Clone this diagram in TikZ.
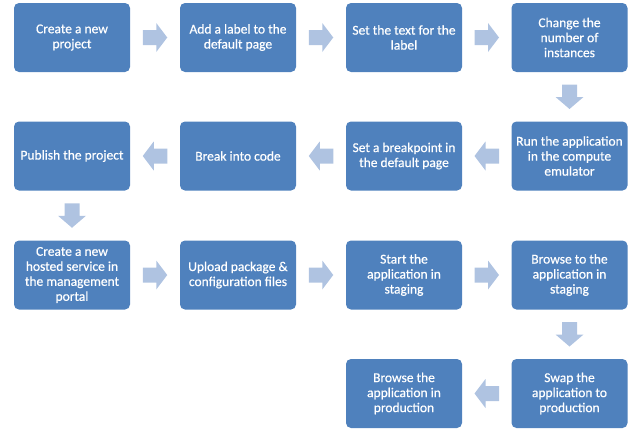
\documentclass[tikz,border=0pt]{standalone}
\usepackage{fontspec}
\setmainfont{Carlito}[FakeBold=0.5]
\usetikzlibrary{calc}
\definecolor{boxblue}{HTML}{4F81BD}
\definecolor{arrowblue}{HTML}{AFC3E1}
\tikzset{
  stepbox/.style={rectangle, rounded corners=5pt, fill=boxblue, draw=none,
    minimum width=116pt, minimum height=69pt, inner sep=0pt,
    text=white, align=center, font=\fontsize{13.5}{15}\selectfont},
  blockarrow/.style={fill=arrowblue, draw=none},
}
\newcommand\rightarr[1]{\fill[blockarrow] ([shift={(-12.25,-7.5)}]#1) -- ([shift={(1.25,-7.5)}]#1) -- ([shift={(1.25,-14.5)}]#1) -- ([shift={(12.25,0)}]#1) -- ([shift={(1.25,14.5)}]#1) -- ([shift={(1.25,7.5)}]#1) -- ([shift={(-12.25,7.5)}]#1) -- cycle;}
\newcommand\leftarr[1]{\fill[blockarrow] ([shift={(12.25,-7.5)}]#1) -- ([shift={(-1.25,-7.5)}]#1) -- ([shift={(-1.25,-14.5)}]#1) -- ([shift={(-12.25,0)}]#1) -- ([shift={(-1.25,14.5)}]#1) -- ([shift={(-1.25,7.5)}]#1) -- ([shift={(12.25,7.5)}]#1) -- cycle;}
\newcommand\downarr[1]{\fill[blockarrow] ([shift={(-7.5,-12.25)}]#1) -- ([shift={(-7.5,0.25)}]#1) -- ([shift={(-14,0.25)}]#1) -- ([shift={(0,12.25)}]#1) -- ([shift={(14,0.25)}]#1) -- ([shift={(7.5,0.25)}]#1) -- ([shift={(7.5,-12.25)}]#1) -- cycle;}
\begin{document}
\begin{tikzpicture}[x=1pt,y=-1pt]
\useasboundingbox (0,0) rectangle (641,431);
% row 1
\node[stepbox] (a1) at (72,37.5) {Create a new\\project};
\node[stepbox] (a2) at (238,37.5) {Add a label to the\\default page};
\node[stepbox] (a3) at (404,37.5) {Set the text for the\\label};
\node[stepbox] (a4) at (569.5,37.5) {Change the\\number of\\instances};
% row 2
\node[stepbox] (b4) at (569.5,156) {Run the application\\in the compute\\emulator};
\node[stepbox] (b3) at (404,156) {Set a breakpoint in\\the default page};
\node[stepbox] (b2) at (238,156) {Break into code};
\node[stepbox] (b1) at (72,156) {Publish the project};
% row 3
\node[stepbox] (c1) at (72,275) {Create a new\\hosted service in\\the management\\portal};
\node[stepbox] (c2) at (238,275) {Upload package \&\\configuration files};
\node[stepbox] (c3) at (404,275) {Start the\\application in\\staging};
\node[stepbox] (c4) at (569.5,275) {Browse to the\\application in\\staging};
% row 4
\node[stepbox] (d4) at (569.5,393.5) {Swap the\\application to\\production};
\node[stepbox] (d3) at (404,393.5) {Browse the\\application in\\production};
% arrow positions
\coordinate (r1) at ($(a1.east)!0.5!(a2.west)$);
\coordinate (r2) at ($(a2.east)!0.5!(a3.west)$);
\coordinate (r3) at ($(a3.east)!0.5!(a4.west)$);
\coordinate (v1) at ($(a4.south)!0.5!(b4.north)$);
\coordinate (l1) at ($(b4.west)!0.5!(b3.east)$);
\coordinate (l2) at ($(b3.west)!0.5!(b2.east)$);
\coordinate (l3) at ($(b2.west)!0.5!(b1.east)$);
\coordinate (v2) at ($(b1.south)!0.5!(c1.north)$);
\coordinate (r4) at ($(c1.east)!0.5!(c2.west)$);
\coordinate (r5) at ($(c2.east)!0.5!(c3.west)$);
\coordinate (r6) at ($(c3.east)!0.5!(c4.west)$);
\coordinate (v3) at ($(c4.south)!0.5!(d4.north)$);
\coordinate (l4) at ($(d4.west)!0.5!(d3.east)$);
\rightarr{r1}\rightarr{r2}\rightarr{r3}
\downarr{v1}
\leftarr{l1}\leftarr{l2}\leftarr{l3}
\downarr{v2}
\rightarr{r4}\rightarr{r5}\rightarr{r6}
\downarr{v3}
\leftarr{l4}
\end{tikzpicture}
\end{document}
